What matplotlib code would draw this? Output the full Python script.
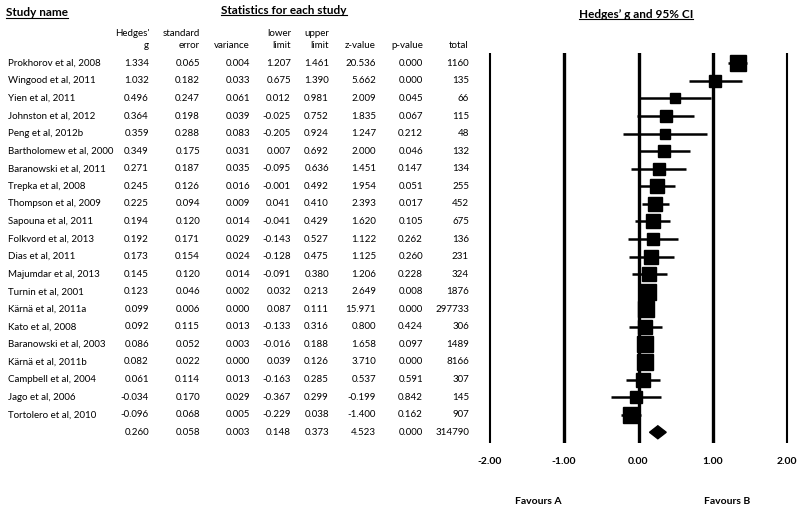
import numpy as np
import matplotlib.pyplot as plt
from matplotlib import transforms
from matplotlib.patches import Polygon
from matplotlib.lines import Line2D

plt.rcParams['font.family'] = ['Lato', 'DejaVu Sans']

studies = ["Prokhorov et al, 2008", "Wingood et al, 2011", "Yien et al, 2011",
           "Johnston et al, 2012", "Peng et al, 2012b", "Bartholomew et al, 2000",
           "Baranowski et al, 2011", "Trepka et al, 2008", "Thompson et al, 2009",
           "Sapouna et al, 2011", "Folkvord et al, 2013", "Dias et al, 2011",
           "Majumdar et al, 2013", "Turnin et al, 2001", "Kärnä et al, 2011a",
           "Kato et al, 2008", "Baranowski et al, 2003", "Kärnä et al, 2011b",
           "Campbell et al, 2004", "Jago et al, 2006", "Tortolero et al, 2010"]
g = [1.334, 1.032, 0.496, 0.364, 0.359, 0.349, 0.271, 0.245, 0.225, 0.194, 0.192,
     0.173, 0.145, 0.123, 0.099, 0.092, 0.086, 0.082, 0.061, -0.034, -0.096]
se = [0.065, 0.182, 0.247, 0.198, 0.288, 0.175, 0.187, 0.126, 0.094, 0.120, 0.171,
      0.154, 0.120, 0.046, 0.006, 0.115, 0.052, 0.022, 0.114, 0.170, 0.068]
var = [0.004, 0.033, 0.061, 0.039, 0.083, 0.031, 0.035, 0.016, 0.009, 0.014, 0.029,
       0.024, 0.014, 0.002, 0.000, 0.013, 0.003, 0.000, 0.013, 0.029, 0.005]
lower = [1.207, 0.675, 0.012, -0.025, -0.205, 0.007, -0.095, -0.001, 0.041, -0.041, -0.143,
         -0.128, -0.091, 0.032, 0.087, -0.133, -0.016, 0.039, -0.163, -0.367, -0.229]
upper = [1.461, 1.390, 0.981, 0.752, 0.924, 0.692, 0.636, 0.492, 0.410, 0.429, 0.527,
         0.475, 0.380, 0.213, 0.111, 0.316, 0.188, 0.126, 0.285, 0.299, 0.038]
zval = [20.536, 5.662, 2.009, 1.835, 1.247, 2.000, 1.451, 1.954, 2.393, 1.620, 1.122,
        1.125, 1.206, 2.649, 15.971, 0.800, 1.658, 3.710, 0.537, -0.199, -1.400]
pval = [0.000, 0.000, 0.045, 0.067, 0.212, 0.046, 0.147, 0.051, 0.017, 0.105, 0.262,
        0.260, 0.228, 0.008, 0.000, 0.424, 0.097, 0.000, 0.591, 0.842, 0.162]
total = [1160, 135, 66, 115, 48, 132, 134, 255, 452, 675, 136,
         231, 324, 1876, 297733, 306, 1489, 8166, 307, 145, 907]

# summary row (random effects)
sum_g, sum_se, sum_var, sum_lo, sum_hi, sum_z, sum_p, sum_n = 0.260, 0.058, 0.003, 0.148, 0.373, 4.523, 0.000, 314790

ticks = [-2, -1, 0, 1, 2]

W, H = 800, 513
fig = plt.figure(figsize=(8, 5.13), dpi=100)

def fx(x):
    return x / W

def fy(y):
    return 1 - y / H

# forest panel
ax = fig.add_axes([486 / W, fy(443), 305 / W, 390 / H])
ax.set_xlim(-2.05, 2.05)
ax.set_ylim(21.61, -0.586)
for s in ax.spines.values():
    s.set_visible(False)
ax.set_yticks([])
ax.set_xticks(ticks)
ax.set_xticklabels(["%.2f" % t for t in ticks], fontsize=7.5, fontweight='bold')
ax.tick_params(axis='x', length=0, pad=10)

for t in ticks:
    ax.axvline(t, color='black', lw=1.5 if abs(t) == 2 else 2.4, zorder=1)

# random-effects weights for box size (DerSimonian-Laird)
y = np.array(g)
v = np.array(se) ** 2
w = 1 / v
mu = np.sum(w * y) / np.sum(w)
Q = np.sum(w * (y - mu) ** 2)
C = np.sum(w) - np.sum(w ** 2) / np.sum(w)
tau2 = max(0, (Q - (len(y) - 1)) / C)
wr = 1 / (v + tau2)
box = 11.5 * np.sqrt(wr / wr.max())

rows = np.arange(len(studies))
ax.hlines(rows, lower, upper, color='black', lw=1.8, zorder=2)
for i in rows:
    ax.plot(g[i], i, marker='s', ms=box[i], color='black', zorder=3)

ds = len(studies)
dia = Polygon([[sum_lo, ds], [sum_g, ds - 0.37], [sum_hi, ds], [sum_g, ds + 0.37]],
              closed=True, color='black', zorder=3)
ax.add_patch(dia)

# table
trans = transforms.blended_transform_factory(fig.transFigure, ax.transData)
col_x = [149, 200, 250, 291, 329, 376, 423, 469]
fs = 7
for i in rows:
    ax.text(fx(8), i, studies[i], transform=trans, ha='left', va='center', fontsize=fs, clip_on=False)
    vals = ["%.3f" % g[i], "%.3f" % se[i], "%.3f" % var[i], "%.3f" % lower[i],
            "%.3f" % upper[i], "%.3f" % zval[i], "%.3f" % pval[i], "%d" % total[i]]
    for cx, s in zip(col_x, vals):
        ax.text(fx(cx), i, s, transform=trans, ha='right', va='center', fontsize=fs, clip_on=False)
svals = ["%.3f" % sum_g, "%.3f" % sum_se, "%.3f" % sum_var, "%.3f" % sum_lo,
         "%.3f" % sum_hi, "%.3f" % sum_z, "%.3f" % sum_p, "%d" % sum_n]
for cx, s in zip(col_x, svals):
    ax.text(fx(cx), ds, s, transform=trans, ha='right', va='center', fontsize=fs, clip_on=False)

# column headers
heads = [("Hedges'", "g"), ("standard", "error"), ("", "variance"), ("lower", "limit"),
         ("upper", "limit"), ("", "z-value"), ("", "p-value"), ("", "total")]
for cx, (h1, h2) in zip(col_x, heads):
    if h1:
        fig.text(fx(cx), fy(33), h1, ha='right', va='center', fontsize=fs)
    fig.text(fx(cx), fy(45), h2, ha='right', va='center', fontsize=fs)

titles = [
    fig.text(fx(6), fy(13), "Study name", ha='left', va='center', fontsize=8.5, fontweight='bold'),
    fig.text(fx(284), fy(10), "Statistics for each study", ha='center', va='center', fontsize=8.5, fontweight='bold'),
    fig.text(fx(636), fy(14), "Hedges\u2019 g and 95% CI", ha='center', va='center', fontsize=8.5, fontweight='bold'),
]
fig.text(fx(538), fy(502), "Favours A", ha='center', va='center', fontsize=7.5, fontweight='bold')
fig.text(fx(727), fy(502), "Favours B", ha='center', va='center', fontsize=7.5, fontweight='bold')

# underline the titles
fig.canvas.draw()
r = fig.canvas.get_renderer()
for t in titles:
    bb = t.get_window_extent(r)
    fig.add_artist(Line2D([bb.x0, bb.x1], [bb.y0 + 0.5, bb.y0 + 0.5], color='black', lw=0.8,
                          transform=transforms.IdentityTransform()))

fig.savefig("out.png", dpi=100)
